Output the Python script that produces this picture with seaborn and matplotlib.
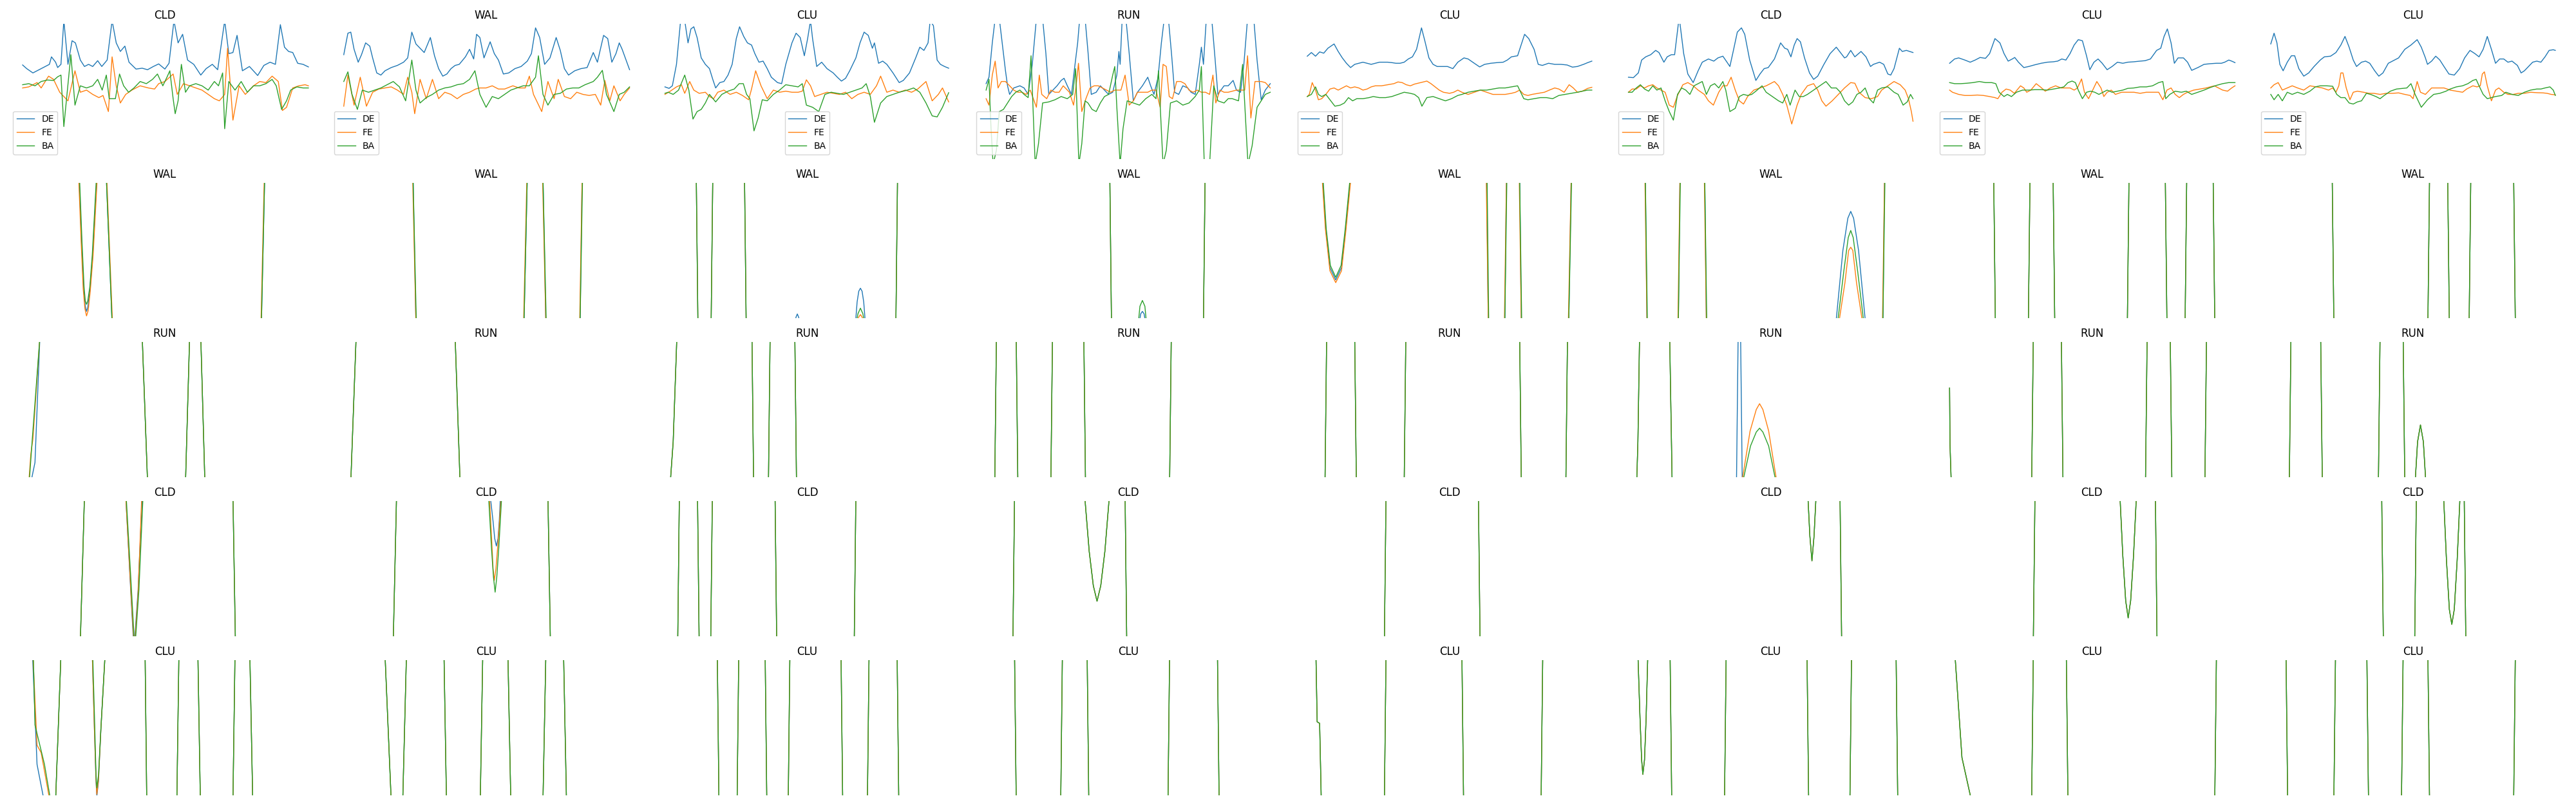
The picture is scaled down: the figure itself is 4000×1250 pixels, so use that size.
import numpy as np
import pandas as pd
import matplotlib
matplotlib.use("Agg")
import matplotlib.pyplot as plt
import seaborn as sns

# three angle traces per trial, t = sample, v = angle (x100)
series = ["DE", "FE", "BA"]
titles = [
    ["CLD", "WAL", "CLU", "RUN", "CLU", "CLD", "CLU", "CLU"],
    ["WAL"] * 8,
    ["RUN"] * 8,
    ["CLD"] * 8,
    ["CLU"] * 8,
]

# ---- row 1 ----
r1c1_de = [(0,123),(10,106),(25,86),(35,96),(50,111),(65,126),(70,161),(80,136),(85,111),(93,126),(100,330),(110,126),(120,236),(128,226),(140,146),(150,116),(160,126),(170,116),(182,143),(192,116),(205,146),(217,330),(227,226),(237,186),(248,211),(258,136),(275,104),(290,108),(303,101),(317,116),(330,128),(345,104),(355,131),(367,330),(377,226),(388,266),(400,146),(415,126),(432,76),(445,106),(460,126),(473,101),(490,330),(500,176),(510,181),(520,261),(533,96),(550,116),(570,74),(585,121),(600,136),(613,126),(625,311),(635,206),(645,186),(655,181),(667,131),(680,126),(693,114)]
r1c1_fe = [(0,16),(15,21),(35,41),(45,16),(63,71),(75,56),(90,-4),(110,-44),(127,96),(140,-4),(155,6),(170,-14),(185,-29),(195,-19),(208,-94),(217,161),(227,26),(237,-54),(250,-14),(265,6),(285,26),(305,16),(320,11),(330,36),(345,46),(365,81),(375,-14),(390,36),(405,26),(420,16),(435,6),(450,-14),(465,-34),(477,-44),(490,-14),(497,201),(510,-134),(525,26),(540,-14),(560,26),(575,46),(590,41),(605,71),(620,46),(630,-89),(640,-74),(655,16),(670,26),(685,31),(693,26)]
r1c1_ba = [(0,31),(15,36),(30,26),(45,46),(60,53),(75,51),(85,68),(93,76),(100,-164),(117,171),(127,-64),(140,26),(155,16),(170,26),(182,56),(193,6),(203,76),(210,-34),(225,-34),(235,81),(245,26),(257,-4),(270,16),(285,46),(300,36),(315,56),(327,81),(340,26),(350,66),(357,96),(365,-34),(370,-104),(377,-44),(385,126),(395,-4),(405,26),(420,36),(435,26),(450,6),(465,46),(475,26),(485,86),(490,-174),(500,46),(515,6),(530,46),(545,-4),(560,26),(575,26),(590,36),(605,56),(615,26),(628,-84),(640,-44),(650,6),(665,21),(680,16),(693,16)]

r1c2_de = [(0,171),(10,271),(17,276),(25,196),(35,136),(43,171),(53,226),(63,211),(70,156),(80,86),(90,76),(100,96),(115,111),(130,121),(145,136),(155,156),(165,276),(175,221),(195,181),(210,251),(220,166),(230,106),(240,71),(250,81),(260,106),(270,121),(280,126),(295,161),(305,196),(315,151),(322,266),(330,251),(340,156),(355,231),(365,176),(375,146),(387,81),(400,86),(415,106),(430,116),(445,141),(455,176),(465,296),(475,251),(487,126),(500,156),(515,251),(525,191),(535,106),(545,76),(560,96),(575,106),(590,111),(605,181),(615,136),(630,261),(640,246),(650,136),(660,176),(668,226),(675,196),(693,101)]
r1c2_fe = [(0,-69),(10,76),(25,-64),(40,66),(55,-69),(70,-4),(85,11),(100,16),(115,21),(130,6),(145,-14),(155,66),(165,-4),(172,-104),(185,56),(200,-34),(215,56),(230,-34),(245,-4),(260,-14),(275,-34),(290,-14),(305,-4),(320,11),(330,16),(345,16),(360,26),(375,11),(390,11),(410,26),(425,16),(440,16),(450,71),(460,-14),(480,-94),(495,46),(510,-34),(520,56),(535,-24),(550,-34),(565,-4),(580,-14),(595,-19),(610,-14),(623,-64),(633,51),(645,-44),(655,26),(670,-44),(680,-14),(693,16)]
r1c2_ba = [(0,46),(10,91),(20,-14),(33,-84),(45,6),(60,-4),(75,6),(90,16),(105,31),(120,46),(135,21),(150,-44),(165,146),(175,6),(185,-54),(200,-29),(215,-14),(230,6),(245,16),(260,21),(275,31),(290,36),(305,56),(318,96),(330,-14),(345,-74),(360,-24),(375,-34),(390,-14),(405,6),(420,16),(435,26),(450,26),(465,66),(472,166),(483,-14),(495,-64),(510,-14),(525,-9),(540,11),(555,16),(570,16),(585,31),(605,46),(615,66),(627,98),(637,-14),(655,-94),(668,-14),(680,-4),(693,21)]

r1c3_de = [(0,21),(10,14),(18,26),(28,126),(38,330),(48,330),(56,226),(63,291),(70,301),(78,251),(88,156),(98,126),(108,106),(116,56),(123,16),(133,41),(143,46),(153,76),(163,126),(173,246),(181,301),(191,256),(200,226),(210,216),(218,176),(228,136),(238,141),(248,106),(258,66),(273,41),(283,36),(293,126),(308,226),(318,271),(328,251),(338,166),(346,246),(353,330),(358,246),(368,116),(380,136),(393,106),(408,86),(418,66),(428,48),(438,61),(448,96),(463,156),(473,226),(483,276),(493,261),(503,201),(508,226),(518,131),(528,141),(538,126),(553,86),(568,41),(578,51),(593,86),(608,156),(618,206),(628,191),(638,226),(643,330),(651,306),(660,146),(668,126),(678,116),(688,108)]
r1c3_fe = [(0,-14),(13,1),(28,21),(40,31),(48,-9),(60,46),(70,6),(83,-9),(98,-4),(108,-24),(118,-34),(128,-4),(143,6),(158,-14),(173,-4),(188,-19),(203,-39),(210,11),(220,96),(233,26),(248,-34),(263,6),(278,-4),(293,1),(308,-4),(323,-4),(333,1),(343,54),(353,26),(363,-24),(378,-14),(393,-4),(408,-9),(423,-14),(438,-4),(453,-34),(468,-14),(483,-4),(498,-14),(513,26),(523,71),(538,-4),(553,6),(568,-4),(583,6),(598,-4),(613,11),(633,46),(648,-44),(663,-14),(673,16),(688,-49)]
r1c3_ba = [(0,-9),(8,-4),(20,-14),(33,6),(48,76),(58,6),(68,-129),(78,-94),(88,-84),(98,-54),(108,-14),(123,-49),(138,-14),(153,1),(168,11),(180,36),(190,36),(198,-14),(206,-34),(216,-184),(226,-124),(236,-39),(248,-44),(263,-14),(278,6),(293,31),(308,26),(323,21),(333,36),(343,-64),(358,-74),(373,-94),(388,-14),(403,-4),(418,-9),(433,-14),(448,-4),(463,6),(478,16),(488,36),(498,-24),(508,-144),(523,-54),(538,-24),(553,-14),(568,-4),(588,6),(603,16),(618,-4),(633,-54),(648,-114),(660,-119),(673,-74),(688,-6)]

r1c4_de = [(0,36),(7,66),(15,226),(22,340),(32,340),(39,226),(47,96),(52,26),(57,-14),(67,16),(82,26),(92,16),(102,-14),(112,126),(122,340),(137,340),(145,176),(152,-14),(162,6),(172,26),(182,51),(189,61),(197,26),(207,-14),(215,116),(222,226),(227,340),(240,340),(247,186),(255,-14),(267,-4),(277,26),(287,6),(297,-14),(307,-4),(317,76),(322,186),(325,126),(330,340),(339,340),(347,176),(357,-44),(367,-4),(379,26),(392,66),(399,26),(407,-14),(417,66),(425,226),(432,340),(442,340),(450,166),(457,-4),(467,-14),(477,26),(489,16),(497,-4),(507,-14),(517,126),(522,206),(527,126),(534,340),(547,340),(555,156),(562,-14),(577,26),(587,26),(599,51),(607,6),(617,-4),(625,126),(634,340),(649,340),(657,146),(667,-39),(677,6),(689,36)]
r1c4_fe = [(0,-34),(7,-64),(15,76),(22,141),(29,16),(37,46),(47,46),(57,26),(67,6),(77,-4),(87,-4),(97,-14),(107,6),(122,-74),(129,76),(135,-14),(147,-34),(157,6),(167,-4),(177,-4),(187,26),(202,-4),(212,-64),(217,6),(224,131),(232,-94),(242,-34),(252,16),(262,26),(272,26),(282,16),(292,6),(302,-4),(312,6),(327,6),(337,76),(347,-64),(357,-44),(367,-4),(379,-4),(392,-4),(402,6),(412,6),(422,-74),(429,126),(437,116),(444,-24),(452,-34),(462,46),(472,46),(482,36),(492,6),(502,-4),(512,6),(522,-4),(532,-4),(542,-14),(550,76),(557,-54),(567,6),(577,-4),(587,-4),(597,1),(607,6),(617,6),(627,6),(634,166),(642,-124),(652,46),(667,46),(677,41),(689,16)]
r1c4_ba = [(0,6),(7,56),(12,-174),(17,-340),(25,-274),(32,-94),(42,-84),(52,-54),(62,-24),(72,-4),(82,6),(92,-14),(102,-29),(109,166),(119,-340),(127,-244),(137,-54),(152,-49),(167,-39),(182,-24),(197,-34),(210,-14),(217,106),(225,-340),(232,-244),(240,-44),(247,-54),(257,-84),(267,-94),(277,-54),(287,-24),(297,-14),(307,76),(312,116),(317,-74),(325,-340),(332,-174),(342,-44),(357,-54),(372,-64),(387,-34),(402,-14),(412,-34),(418,96),(429,-340),(437,-274),(447,-54),(462,-44),(477,-64),(492,-54),(507,-24),(517,6),(522,116),(529,-340),(542,-340),(552,26),(562,-44),(577,-54),(587,-34),(597,-34),(612,-44),(622,126),(635,-340),(645,-254),(657,-74),(667,-44),(677,-14),(689,-4)]

r1c5_de = [(0,164),(10,181),(20,164),(30,184),(40,178),(50,201),(65,221),(75,186),(85,156),(95,131),(105,111),(115,126),(125,131),(135,136),(145,131),(155,126),(165,131),(175,136),(185,136),(195,136),(205,134),(215,131),(225,131),(235,136),(245,151),(255,161),(265,196),(277,296),(285,236),(295,156),(305,126),(315,116),(330,116),(340,116),(353,106),(365,136),(380,156),(390,151),(405,131),(418,114),(430,126),(445,131),(460,134),(475,136),(485,146),(495,161),(510,166),(527,266),(537,246),(550,196),(560,126),(570,121),(585,131),(600,126),(615,126),(630,123),(643,113),(655,116),(670,126),(680,134),(690,141)]
r1c5_fe = [(0,-24),(5,-14),(12,41),(20,6),(27,-39),(35,-34),(45,-14),(55,11),(65,16),(75,6),(85,16),(95,26),(105,16),(115,21),(125,16),(135,6),(145,11),(155,21),(165,26),(180,26),(195,31),(210,36),(220,44),(230,41),(240,31),(250,26),(260,34),(275,41),(290,48),(300,36),(310,21),(320,6),(330,-4),(345,-9),(355,-4),(365,6),(375,-4),(390,-14),(405,-4),(420,6),(435,-4),(450,-14),(465,-14),(480,-14),(495,-9),(505,-4),(515,6),(525,-14),(535,-19),(545,-14),(560,-9),(575,-4),(587,6),(600,16),(610,11),(623,-4),(635,31),(645,16),(655,-4),(667,1),(680,14),(690,19)]
r1c5_ba = [(0,-24),(10,-14),(20,21),(27,-14),(35,-24),(45,-14),(55,-39),(67,-69),(80,-64),(90,-54),(100,-29),(110,-44),(120,-34),(135,-34),(150,-29),(160,-24),(175,-29),(190,-29),(205,-24),(220,-14),(235,-4),(250,-9),(260,-14),(270,-29),(278,-69),(290,-29),(305,-24),(320,-34),(335,-44),(350,-34),(365,-19),(375,-14),(390,-4),(405,1),(420,6),(435,6),(450,11),(465,16),(480,16),(495,21),(510,26),(515,6),(525,-34),(535,-39),(550,-34),(565,-29),(580,-29),(595,-34),(610,-19),(625,-14),(640,-9),(655,-4),(667,1),(680,6),(690,6)]

r1c6_de = [(0,66),(12,64),(24,86),(32,146),(42,161),(54,171),(66,191),(74,181),(86,136),(94,161),(104,171),(112,171),(122,330),(125,316),(134,176),(144,81),(157,41),(169,96),(179,136),(194,151),(207,141),(217,156),(229,164),(239,136),(246,116),(254,186),(264,276),(274,296),(282,266),(294,146),(309,51),(319,81),(329,106),(339,111),(354,151),(369,226),(379,201),(386,196),(394,161),(402,216),(409,246),(417,231),(427,156),(439,86),(449,56),(459,71),(474,126),(489,176),(504,206),(514,181),(524,156),(529,161),(539,191),(549,161),(564,186),(576,161),(587,116),(594,126),(609,136),(619,126),(629,81),(636,76),(644,106),(657,201),(664,186),(674,191),(682,186),(690,181)]
r1c6_fe = [(0,-4),(9,11),(19,11),(29,26),(39,16),(49,26),(59,31),(69,16),(79,6),(89,-4),(99,-64),(109,-74),(119,-19),(132,31),(144,41),(157,26),(169,6),(184,-14),(194,-44),(206,-64),(219,-4),(229,26),(239,26),(249,66),(259,6),(269,-44),(279,-59),(289,-24),(304,6),(319,16),(334,26),(344,36),(354,46),(364,26),(374,-14),(384,-64),(396,-152),(409,-64),(419,-14),(434,26),(449,36),(459,6),(469,-44),(479,-69),(494,-44),(509,-14),(524,16),(539,41),(549,38),(559,-4),(574,-29),(589,-34),(604,-24),(614,6),(629,26),(644,46),(659,31),(671,6),(679,-34),(686,-94),(690,-139)]
r1c6_ba = [(0,-4),(9,-4),(19,16),(29,31),(39,11),(49,1),(59,26),(69,6),(79,16),(89,-44),(99,-94),(109,-134),(119,-14),(129,16),(139,6),(149,-14),(159,26),(169,36),(179,46),(189,-14),(199,26),(209,36),(219,16),(229,46),(236,6),(246,-94),(259,-79),(269,-24),(279,-14),(289,-19),(299,-14),(309,1),(324,26),(334,-4),(349,-24),(364,-44),(374,-54),(384,-14),(392,-64),(404,6),(414,-24),(424,-24),(434,-14),(449,6),(464,26),(479,46),(492,16),(504,16),(514,-4),(524,-44),(534,-64),(544,-49),(554,-14),(564,-4),(574,16),(584,-34),(594,-54),(604,6),(614,16),(629,21),(644,-4),(654,-14),(666,-64),(676,-49),(684,-14),(690,-34)]

r1c7_de = [(0,131),(12,151),(22,156),(37,146),(50,136),(62,146),(74,158),(87,154),(97,176),(110,246),(122,226),(132,176),(142,141),(152,151),(158,158),(167,136),(180,111),(192,116),(207,124),(222,131),(237,136),(252,138),(262,141),(272,151),(282,146),(292,176),(302,216),(312,241),(322,236),(332,166),(340,101),(350,136),(360,151),(370,131),(382,101),(394,116),(407,136),(420,131),(432,136),(447,138),(462,141),(474,143),(487,151),(502,191),(512,201),(520,256),(528,291),(537,226),(545,131),(554,156),(567,156),(577,136),(587,98),(602,111),(617,126),(632,129),(647,131),(659,131),(667,136),(677,146),(684,141),(692,134)]
r1c7_fe = [(0,6),(7,-4),(22,-14),(37,-19),(52,-19),(67,-17),(82,-19),(97,-24),(110,-29),(117,-34),(127,-4),(137,11),(147,6),(157,-9),(172,26),(180,16),(187,-4),(197,6),(210,36),(220,21),(232,1),(244,16),(257,26),(270,16),(282,16),(292,16),(302,6),(310,16),(320,58),(327,-4),(337,-34),(347,6),(357,46),(367,16),(374,-24),(382,-4),(392,6),(402,-14),(417,-4),(432,-4),(447,-4),(462,-9),(477,-4),(492,-4),(507,-4),(517,-39),(527,6),(537,16),(547,-14),(557,-29),(567,-14),(577,-4),(592,6),(607,11),(622,16),(632,21),(642,26),(652,16),(662,6),(674,1),(684,16),(692,26)]
r1c7_ba = [(0,41),(12,36),(27,36),(42,38),(57,41),(72,46),(87,41),(102,41),(112,36),(120,-4),(132,-24),(140,-14),(150,-24),(162,-4),(177,6),(192,6),(207,8),(222,8),(237,6),(252,11),(267,16),(277,21),(287,41),(297,48),(305,41),(312,6),(322,-34),(332,-4),(342,1),(352,-4),(362,-14),(372,-4),(382,6),(394,-4),(407,1),(420,6),(432,14),(447,16),(462,21),(477,21),(492,26),(507,41),(517,46),(524,-34),(534,-14),(547,1),(562,-4),(574,1),(587,-14),(602,-4),(617,6),(632,18),(647,28),(662,36),(677,41),(692,41)]

r1c8_de = [(0,221),(8,271),(15,226),(22,126),(30,96),(40,136),(50,166),(58,166),(68,106),(80,71),(92,86),(105,116),(120,146),(130,161),(145,164),(158,181),(170,216),(180,256),(190,206),(200,146),(208,116),(220,136),(230,141),(240,131),(252,96),(262,71),(272,86),(285,131),(295,141),(310,156),(325,196),(340,216),(355,241),(365,206),(375,156),(380,126),(390,141),(400,164),(410,146),(420,116),(432,81),(445,76),(458,106),(470,156),(483,191),(495,176),(505,161),(515,196),(525,256),(535,196),(545,131),(555,151),(565,151),(575,136),(585,141),(598,121),(607,86),(615,96),(625,116),(635,136),(645,141),(655,136),(665,161),(675,191),(685,194),(690,191)]
r1c8_fe = [(0,16),(8,31),(18,41),(28,6),(40,16),(52,26),(65,16),(80,6),(95,26),(110,21),(125,16),(140,6),(150,16),(158,-4),(165,26),(170,86),(175,86),(183,16),(192,-39),(200,-4),(210,1),(225,-4),(238,-9),(250,-9),(265,-14),(280,-9),(295,-9),(310,-7),(325,-14),(338,-19),(345,-34),(355,46),(363,-4),(375,-14),(390,16),(405,16),(420,16),(435,6),(450,1),(465,-4),(475,11),(490,26),(500,21),(508,26),(513,81),(518,91),(525,26),(535,-44),(545,6),(553,16),(565,-4),(575,-14),(588,-14),(600,-9),(615,-9),(630,-4),(645,-6),(660,-7),(670,-9),(680,-14),(690,-16)]
r1c8_ba = [(0,-14),(8,-39),(18,-14),(28,-44),(40,-4),(52,-14),(65,-4),(80,-14),(95,1),(108,21),(120,26),(135,26),(150,24),(160,-14),(170,-29),(180,-29),(190,-54),(200,-59),(210,-49),(220,-44),(232,-9),(242,-14),(255,-24),(265,-34),(275,-19),(290,1),(305,11),(320,14),(330,16),(340,36),(350,-14),(365,-74),(380,-39),(395,-14),(410,-9),(425,1),(435,11),(450,21),(465,26),(478,36),(490,51),(498,56),(505,26),(515,-14),(525,-34),(535,-29),(545,-24),(560,-19),(570,-4),(585,-14),(600,-19),(615,-4),(630,6),(645,11),(655,11),(665,16),(677,21),(685,6),(690,-19)]

# ---- row 2 (WAL) ----
r2c1_de = [(0,340),(137,340),(143,40),(148,-180),(152,-260),(155,-284),(158,-265),(163,-190),(170,-20),(180,340),(203,340),(217,-340),(579,-340),(587,340),(690,340)]
r2c1_fe = [(0,340),(136,340),(142,40),(147,-180),(151,-270),(155,-305),(159,-280),(164,-190),(171,-20),(181,340),(204,340),(218,-340),(578,-340),(586,340),(690,340)]
r2c1_ba = [(0,340),(138,340),(144,40),(149,-170),(152,-235),(155,-251),(158,-235),(163,-170),(169,-20),(179,340),(203,340),(217,-340),(579,-340),(587,340),(690,340)]
r2c2_de = [(0,340),(168,340),(175,-340),(437,-340),(445,340),(483,340),(490,-340),(573,-340),(578,340),(690,340)]
r2c2_fe = [(0,340),(167,340),(175,-340),(436,-340),(444,340),(482,340),(490,-340),(572,-340),(578,340),(690,340)]
r2c2_ba = [(0,340),(168,340),(176,-340),(437,-340),(445,340),(483,340),(491,-340),(573,-340),(579,340),(690,340)]
r2c3_de = [(0,340),(76,340),(80,-340),(112,-340),(116,340),(193,340),(197,-340),(314,-340),(318,-310),(321,-296),(324,-310),(328,-340),(462,-340),(466,-240),(470,-190),(474,-176),(478,-190),(482,-240),(486,-340),(560,-340),(564,340),(690,340)]
r2c3_fe = [(0,340),(76,340),(80,-340),(112,-340),(116,340),(193,340),(197,-340),(466,-340),(470,-310),(474,-299),(478,-310),(482,-340),(560,-340),(564,340),(690,340)]
r2c3_ba = [(0,340),(76,340),(80,-340),(112,-340),(116,340),(193,340),(197,-340),(464,-340),(468,-295),(474,-269),(480,-295),(484,-340),(560,-340),(564,340),(690,340)]
r2c4_de = [(0,340),(300,340),(304,-340),(371,-340),(375,-295),(379,-284),(383,-295),(387,-340),(527,-340),(531,340),(690,340)]
r2c4_fe = [(0,340),(300,340),(304,-340),(373,-340),(379,-320),(385,-340),(527,-340),(531,340),(690,340)]
r2c4_ba = [(0,340),(300,340),(304,-340),(369,-340),(373,-260),(379,-233),(385,-260),(389,-340),(527,-340),(531,340),(690,340)]
r2c5_de = [(0,340),(37,340),(45,100),(55,-80),(69,-137),(83,-80),(93,100),(105,340),(435,340),(439,-340),(479,-340),(483,340),(515,340),(519,-340),(634,-340),(640,340),(690,340)]
r2c5_fe = [(0,340),(36,340),(44,100),(55,-95),(69,-150),(83,-95),(94,100),(106,340),(434,340),(439,-340),(478,-340),(483,340),(514,340),(519,-340),(633,-340),(640,340),(690,340)]
r2c5_ba = [(0,340),(38,340),(46,100),(56,-70),(69,-125),(82,-70),(92,100),(104,340),(436,340),(440,-340),(479,-340),(484,340),(515,340),(520,-340),(634,-340),(641,340),(690,340)]
r2c6_de = [(0,340),(41,340),(45,-340),(121,-340),(125,340),(185,340),(189,-340),(503,-340),(520,0),(532,150),(539,182),(546,150),(558,0),(575,-340),(617,-340),(621,340),(690,340)]
r2c6_fe = [(0,340),(40,340),(45,-340),(120,-340),(125,340),(184,340),(189,-340),(510,-340),(525,-150),(534,0),(539,15),(544,0),(553,-150),(568,-340),(616,-340),(621,340),(690,340)]
r2c6_ba = [(0,340),(41,340),(46,-340),(121,-340),(126,340),(185,340),(190,-340),(507,-340),(522,-100),(533,60),(539,93),(545,60),(556,-100),(571,-340),(617,-340),(622,340),(690,340)]
r2c7_de = r2c7_fe = r2c7_ba = [(0,340),(107,340),(111,-340),(191,-340),(195,340),(251,340),(255,-340),(431,-340),(435,340),(523,340),(527,-340),(571,-340),(575,340),(639,340),(643,-340),(690,-340)]
r2c8_de = r2c8_fe = r2c8_ba = [(0,340),(149,340),(153,-340),(381,-340),(385,340),(429,340),(433,-340),(481,-340),(485,340),(589,340),(593,-340),(690,-340)]

# ---- row 3 (RUN) ----
r3c1_de = [(0,-340),(20,-340),(30,-247),(42,340),(290,340),(303,-340),(395,-340),(405,340),(432,340),(442,-340),(690,-340)]
r3c1_fe = [(0,-340),(15,-340),(20,-207),(25,-137),(42,340),(290,340),(303,-340),(395,-340),(405,340),(432,340),(442,-340),(690,-340)]
r3c1_ba = [(0,-340),(16,-340),(23,-150),(42,340),(290,340),(303,-340),(395,-340),(405,340),(432,340),(442,-340),(690,-340)]
r3c2_de = r3c2_fe = r3c2_ba = [(0,-340),(17,-340),(30,340),(270,340),(282,-340),(690,-340)]
r3c3_de = r3c3_fe = r3c3_ba = [(0,-340),(13,-340),(20,-150),(29,340),(211,340),(215,-340),(251,-340),(255,340),(315,340),(319,-340),(690,-340)]
r3c4_de = r3c4_fe = r3c4_ba = [(0,-340),(21,-340),(25,340),(73,340),(77,-340),(157,-340),(161,340),(237,340),(241,-340),(445,-340),(449,340),(690,340)]
r3c5_de = r3c5_fe = r3c5_ba = [(0,-340),(43,-340),(47,340),(115,340),(119,-340),(235,-340),(239,340),(515,340),(519,-340),(627,-340),(631,340),(690,340)]
r3c6_de = [(0,-340),(20,-340),(23,-150),(27,340),(100,340),(106,-340),(262,-340),(266,340),(272,340),(276,-340),(690,-340)]
r3c6_fe = [(0,-340),(20,-340),(23,-150),(27,340),(100,340),(106,-340),(275,-340),(295,-100),(310,0),(318,27),(326,0),(340,-100),(360,-340),(690,-340)]
r3c6_ba = [(0,-340),(20,-340),(23,-150),(27,340),(100,340),(106,-340),(277,-340),(296,-170),(310,-105),(318,-87),(326,-105),(340,-170),(358,-340),(690,-340)]
r3c7_de = r3c7_fe = r3c7_ba = [(0,100),(1,-164),(4,-340),(199,-340),(203,340),(271,340),(275,-340),(475,-340),(479,340),(535,340),(539,-340),(619,-340),(623,340),(690,340)]
r3c8_de = r3c8_fe = r3c8_ba = [(0,-340),(45,-340),(49,340),(121,340),(125,-340),(261,-340),(265,340),(321,340),(325,-340),(350,-340),(356,-150),(363,-72),(370,-150),(376,-340),(690,-340)]

# ---- row 4 (CLD) ----
r4c1_de = [(0,-340),(140,-340),(150,340),(250,340),(262,-100),(270,-380),(280,-100),(290,340),(510,340),(516,-340),(690,-340)]
r4c1_fe = [(0,-340),(140,-340),(150,340),(250,340),(263,-120),(271,-380),(280,-120),(289,340),(510,340),(516,-340),(690,-340)]
r4c1_ba = [(0,-340),(140,-340),(150,340),(251,340),(264,-100),(272,-380),(282,-100),(292,340),(510,340),(516,-340),(690,-340)]
r4c2_de = [(0,-340),(120,-340),(128,340),(355,340),(362,220),(366,140),(370,105),(374,140),(377,220),(380,340),(495,340),(501,-340),(690,-340)]
r4c2_fe = [(0,-340),(120,-340),(128,340),(353,340),(359,120),(362,0),(365,-55),(369,0),(374,120),(382,340),(495,340),(501,-340),(690,-340)]
r4c2_ba = [(0,-340),(120,-340),(128,340),(351,340),(358,100),(363,-40),(367,-110),(371,-40),(376,100),(383,340),(495,340),(501,-340),(690,-340)]
r4c3_de = r4c3_fe = r4c3_ba = [(0,-340),(31,-340),(35,340),(79,340),(83,-340),(111,-340),(115,340),(267,340),(271,-340),(459,-340),(463,340),(690,340)]
r4c4_de = r4c4_fe = r4c4_ba = [(0,-340),(65,-340),(69,340),(239,340),(250,80),(260,-80),(269,-152),(278,-80),(288,80),(299,340),(337,340),(341,-340),(690,-340)]
r4c5_de = r4c5_fe = r4c5_ba = [(0,-340),(187,-340),(191,340),(415,340),(419,-340),(690,-340)]
r4c6_de = r4c6_fe = r4c6_ba = [(0,340),(435,340),(440,150),(445,36),(450,150),(455,340),(513,340),(517,-340),(690,-340)]
r4c7_de = r4c7_fe = r4c7_ba = [(0,-340),(203,-340),(207,340),(413,340),(420,60),(427,-150),(433,-230),(439,-150),(446,60),(453,340),(499,340),(503,-340),(690,-340)]
r4c8_de = r4c8_fe = r4c8_ba = [(0,340),(269,340),(273,-340),(349,-340),(353,340),(419,340),(426,40),(433,-190),(439,-260),(445,-190),(452,40),(459,340),(469,340),(473,-340),(690,-340)]

# ---- row 5 (CLU) ----
r5c1_de = [(0,340),(24,340),(35,-171),(52,-340),(80,-340),(93,340),(169,340),(174,0),(178,-250),(180,-320),(184,-250),(190,0),(200,340),(297,340),(301,-340),(374,-340),(379,340),(425,340),(431,-340),(510,-340),(515,340),(551,340),(558,-340),(690,-340)]
r5c1_fe = [(0,340),(25,340),(35,-82),(45,-117),(66,-340),(80,-340),(93,340),(169,340),(174,0),(178,-240),(180,-311),(184,-240),(190,0),(200,340),(297,340),(301,-340),(374,-340),(379,340),(425,340),(431,-340),(510,-340),(515,340),(551,340),(558,-340),(690,-340)]
r5c1_ba = [(0,340),(26,340),(30,12),(53,-171),(68,-340),(80,-340),(93,340),(170,340),(175,0),(178,-220),(180,-281),(184,-220),(190,0),(200,340),(297,340),(301,-340),(374,-340),(379,340),(425,340),(431,-340),(510,-340),(515,340),(551,340),(558,-340),(690,-340)]
r5c2_de = r5c2_fe = r5c2_ba = [(0,340),(100,340),(115,-340),(143,-340),(152,340),(243,340),(249,-340),(331,-340),(337,340),(398,340),(405,-340),(483,-340),(490,340),(533,340),(540,-340),(690,-340)]
r5c3_de = r5c3_fe = r5c3_ba = [(0,340),(127,340),(131,-340),(175,-340),(179,340),(243,340),(247,-340),(299,-340),(303,340),(427,340),(431,-340),(491,-340),(495,340),(563,340),(567,-340),(690,-340)]
r5c4_de = r5c4_fe = r5c4_ba = [(0,340),(69,340),(73,-340),(181,-340),(185,340),(245,340),(249,-340),(441,-340),(445,340),(561,340),(565,-340),(690,-340)]
r5c5_de = r5c5_fe = r5c5_ba = [(0,340),(21,340),(24,27),(30,20),(34,-340),(187,-340),(191,340),(375,340),(379,-340),(567,-340),(571,340),(690,340)]
r5c6_de = r5c6_fe = r5c6_ba = [(0,340),(23,340),(28,50),(32,-150),(35,-218),(39,-150),(43,50),(47,340),(101,340),(105,-340),(233,-340),(237,340),(433,340),(437,-340),(537,-340),(541,340),(649,340),(653,-340),(690,-340)]
r5c7_de = r5c7_fe = r5c7_ba = [(0,340),(13,340),(30,-140),(53,-340),(199,-340),(203,340),(283,340),(287,-340),(643,-340),(647,340),(690,340)]
r5c8_de = r5c8_fe = r5c8_ba = [(0,340),(37,340),(41,-340),(153,-340),(157,340),(233,340),(237,-340),(317,-340),(321,340),(381,340),(385,-340),(589,-340),(593,340),(690,340)]


colors = sns.color_palette("tab10", 3)

fig, axes = plt.subplots(5, 8, figsize=(40, 12.5))
fig.subplots_adjust(left=0.00325, right=0.9975, top=0.9702, bottom=0.0124,
                    wspace=0.026, hspace=0.18)

for r in range(5):
    for c in range(8):
        ax = axes[r, c]
        for s, col in zip(series, colors):
            pts = globals()[f"r{r+1}c{c+1}_{s.lower()}"]
            df = pd.DataFrame(pts, columns=["t", "v"])
            kw = {"label": s} if r == 0 else {}
            sns.lineplot(data=df, x="t", y="v", ax=ax, color=col, lw=1.0,
                         estimator=None, sort=False, **kw)
        ax.set_xlim(-34.5, 724.5)
        ax.set_ylim(-314, 314)
        ax.set_title(titles[r][c])
        ax.axis("off")
        if r == 0:
            ax.legend(loc="lower center" if c == 2 else "lower left")
        elif ax.get_legend() is not None:
            ax.get_legend().remove()

fig.savefig("out.png", dpi=100)
